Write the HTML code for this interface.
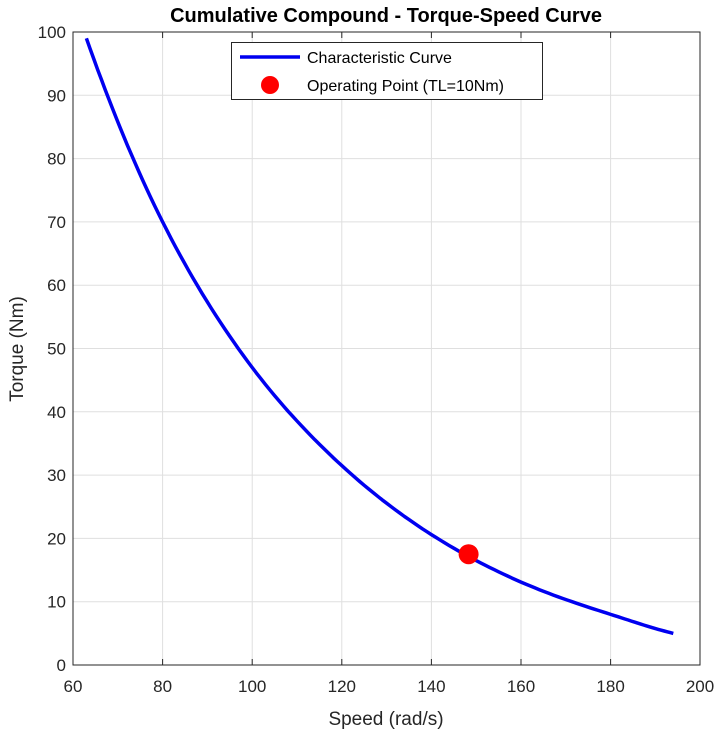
<!DOCTYPE html>
<html><head><meta charset="utf-8"><style>
body{margin:0;background:#fff}
svg{display:block;font-family:"Liberation Sans",Arial,sans-serif}
</style></head><body>
<svg width="721" height="733" viewBox="0 0 721 733" xmlns="http://www.w3.org/2000/svg">
<rect width="721" height="733" fill="#fff"/>
<g stroke="#dfdfdf" stroke-width="1">
<line x1="162.6" y1="32" x2="162.6" y2="665"/>
<line x1="252.2" y1="32" x2="252.2" y2="665"/>
<line x1="341.8" y1="32" x2="341.8" y2="665"/>
<line x1="431.4" y1="32" x2="431.4" y2="665"/>
<line x1="521" y1="32" x2="521" y2="665"/>
<line x1="610.6" y1="32" x2="610.6" y2="665"/>
<line x1="73" y1="601.7" x2="700" y2="601.7"/>
<line x1="73" y1="538.4" x2="700" y2="538.4"/>
<line x1="73" y1="475.1" x2="700" y2="475.1"/>
<line x1="73" y1="411.8" x2="700" y2="411.8"/>
<line x1="73" y1="348.5" x2="700" y2="348.5"/>
<line x1="73" y1="285.2" x2="700" y2="285.2"/>
<line x1="73" y1="221.9" x2="700" y2="221.9"/>
<line x1="73" y1="158.6" x2="700" y2="158.6"/>
<line x1="73" y1="95.3" x2="700" y2="95.3"/>
</g>
<rect x="73" y="32" width="627" height="633" fill="none" stroke="#262626" stroke-width="1"/>
<g stroke="#262626" stroke-width="1">
<line x1="162.6" y1="665" x2="162.6" y2="659"/><line x1="252.2" y1="665" x2="252.2" y2="659"/><line x1="341.8" y1="665" x2="341.8" y2="659"/><line x1="431.4" y1="665" x2="431.4" y2="659"/><line x1="521" y1="665" x2="521" y2="659"/><line x1="610.6" y1="665" x2="610.6" y2="659"/>
<line x1="162.6" y1="32" x2="162.6" y2="38"/><line x1="252.2" y1="32" x2="252.2" y2="38"/><line x1="341.8" y1="32" x2="341.8" y2="38"/><line x1="431.4" y1="32" x2="431.4" y2="38"/><line x1="521" y1="32" x2="521" y2="38"/><line x1="610.6" y1="32" x2="610.6" y2="38"/>
</g>
<g font-size="17" fill="#262626" text-anchor="middle">
<text x="73" y="692">60</text><text x="162.6" y="692">80</text><text x="252.2" y="692">100</text><text x="341.8" y="692">120</text><text x="431.4" y="692">140</text><text x="521" y="692">160</text><text x="610.6" y="692">180</text><text x="700" y="692">200</text>
</g>
<g font-size="17" fill="#262626" text-anchor="end">
<text x="66" y="671">0</text><text x="66" y="607.7">10</text><text x="66" y="544.4">20</text><text x="66" y="481.1">30</text><text x="66" y="417.8">40</text><text x="66" y="354.5">50</text><text x="66" y="291.2">60</text><text x="66" y="227.9">70</text><text x="66" y="164.6">80</text><text x="66" y="101.3">90</text><text x="66" y="38">100</text>
</g>
<text x="386" y="725" font-size="19" fill="#262626" text-anchor="middle">Speed (rad/s)</text>
<text transform="translate(23,349) rotate(-90)" font-size="19" fill="#262626" text-anchor="middle">Torque (Nm)</text>
<text x="386" y="22" font-size="20" font-weight="bold" fill="#000" text-anchor="middle">Cumulative Compound - Torque-Speed Curve</text>
<path id="curve" fill="none" stroke="#0000f0" stroke-width="3.5" stroke-linejoin="round" stroke-linecap="butt" d=""/>
<circle cx="468.6" cy="554.2" r="10" fill="#ff0000"/>
<rect x="231.5" y="42.5" width="311" height="57" fill="#fff" stroke="#262626" stroke-width="1"/>
<line x1="240" y1="57" x2="300" y2="57" stroke="#0000f0" stroke-width="3.5"/>
<circle cx="270" cy="85" r="9" fill="#ff0000"/>
<text x="307" y="63" font-size="16" fill="#000">Characteristic Curve</text>
<text x="307" y="91" font-size="16" fill="#000">Operating Point (TL=10Nm)</text>
</svg>
<script>
var d=[[63,99],[80,70],[100,47],[120,31.5],[140,20.6],[160,13.1],[180,8],[194,5]];
var L=d.map(function(a){return [a[0],Math.log(a[1])];});
var pts=[];
for(var i=0;i<L.length-1;i++){
var p0=L[i-1]||[2*L[i][0]-L[i+1][0],2*L[i][1]-L[i+1][1]],p1=L[i],p2=L[i+1],p3=L[i+2]||[2*L[i+1][0]-L[i][0],2*L[i+1][1]-L[i][1]];
for(var k=0;k<20;k++){var t=k/20,t2=t*t,t3=t2*t;
var f=function(a,b,c,e){return 0.5*((2*b)+(-a+c)*t+(2*a-5*b+4*c-e)*t2+(-a+3*b-3*c+e)*t3);};
pts.push([f(p0[0],p1[0],p2[0],p3[0]),f(p0[1],p1[1],p2[1],p3[1])]);}
}
pts.push(L[L.length-1]);
var s=pts.map(function(q,j){return (j?"L":"M")+(73+(q[0]-60)*4.48).toFixed(1)+","+(665-Math.exp(q[1])*6.33).toFixed(1);}).join(" ");
document.getElementById("curve").setAttribute("d",s);
</script>
</body></html>
